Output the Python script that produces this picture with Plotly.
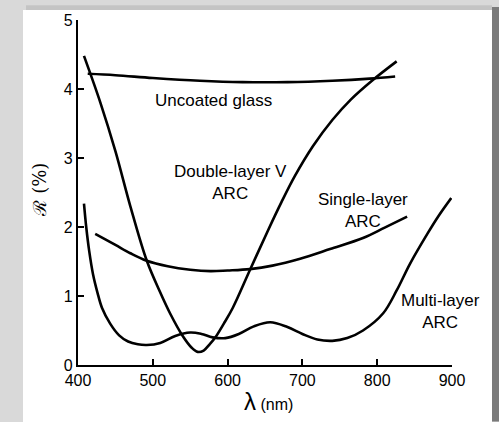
import plotly.graph_objects as go

# ---- data ----
glass_x = [413, 450, 500, 563, 620, 680, 740, 790, 824]
glass_y = [4.22, 4.20, 4.16, 4.12, 4.10, 4.10, 4.12, 4.15, 4.18]

double_x = [408, 430, 450, 470, 492, 510, 523, 540, 552, 560, 568, 576, 583, 595, 607, 630, 654, 672, 690, 714, 740, 765, 793, 826]
double_y = [4.48, 3.80, 3.10, 2.30, 1.51, 1.05, 0.75, 0.42, 0.25, 0.19, 0.21, 0.30, 0.39, 0.60, 0.83, 1.38, 1.95, 2.36, 2.74, 3.17, 3.55, 3.85, 4.12, 4.40]

single_x = [423, 450, 470, 492, 520, 550, 577, 600, 630, 660, 697, 737, 781, 810, 840]
single_y = [1.90, 1.74, 1.62, 1.51, 1.43, 1.38, 1.36, 1.37, 1.39, 1.44, 1.54, 1.68, 1.84, 1.99, 2.15]

multi_x = [408, 411, 415, 420, 426, 432, 443, 455, 467, 480, 492, 510, 530, 550, 565, 580, 597, 615, 635, 657, 680, 700, 720, 740, 760, 781, 808, 826, 844, 867, 882, 899]
multi_y = [2.34, 2.00, 1.65, 1.32, 1.05, 0.83, 0.60, 0.43, 0.34, 0.30, 0.29, 0.32, 0.42, 0.47, 0.45, 0.40, 0.39, 0.45, 0.56, 0.62, 0.55, 0.45, 0.37, 0.35, 0.39, 0.50, 0.75, 1.08, 1.47, 1.90, 2.16, 2.42]

x_ticks = [400, 500, 600, 700, 800, 900]
y_ticks = [0, 1, 2, 3, 4, 5]

labels = [
    ("Uncoated glass", 213, 98),
    ("Double-layer V<br>ARC", 230, 181),
    ("Single-layer<br>ARC", 363, 209),
    ("Multi-layer<br>ARC", 440, 311),
]

# ---- layout geometry (pixels) ----
W, H = 499, 422
L, R, T, B = 78, 452, 17, 365


def px(x):
    return (x - L) / (R - L)


def py(y):
    return (B - y) / (B - T)


FONT = "Liberation Sans, Arial, Helvetica, sans-serif"

fig = go.Figure()
line = dict(color="black", width=2.6, shape="spline", smoothing=1.0)
for xs, ys in [(glass_x, glass_y), (double_x, double_y), (single_x, single_y), (multi_x, multi_y)]:
    fig.add_trace(go.Scatter(x=xs, y=ys, mode="lines", line=line, showlegend=False, hoverinfo="skip"))

shapes = [
    dict(type="rect", xref="paper", yref="paper", x0=px(0), x1=px(W), y0=py(0), y1=py(H),
         fillcolor="#d9d9d9", line_width=0, layer="below"),
    dict(type="rect", xref="paper", yref="paper", x0=px(492), x1=px(499), y0=py(4), y1=py(H),
         fillcolor="#7a7a7a", line_width=0, layer="below"),
    dict(type="rect", xref="paper", yref="paper", x0=px(26), x1=px(492), y0=py(2), y1=py(7),
         fillcolor="#c4c4c4", line_width=0, layer="below"),
    dict(type="rect", xref="paper", yref="paper", x0=px(23), x1=px(492), y0=py(7), y1=py(H + 2),
         fillcolor="white", line_width=0, layer="below"),
]

annotations = []
for text, x, y in labels:
    annotations.append(dict(text=text, xref="paper", yref="paper", x=px(x), y=py(y),
                            showarrow=False, xanchor="center", yanchor="middle",
                            font=dict(family=FONT, size=17, color="black"), align="center"))

annotations.append(dict(text="<span style='font-size:24px'>λ</span> (nm)", xref="paper", yref="paper",
                        x=px(268), y=py(402), showarrow=False, xanchor="center", yanchor="middle",
                        font=dict(family=FONT, size=16, color="black")))
annotations.append(dict(text="ℛ (%)", xref="paper", yref="paper", x=px(40), y=py(188),
                        showarrow=False, textangle=-90, xanchor="center", yanchor="middle",
                        font=dict(family="DejaVu Serif, " + FONT, size=18, color="black")))

fig.update_layout(
    width=W, height=H,
    margin=dict(l=L, r=W - R, t=T, b=H - B, pad=0),
    paper_bgcolor="#d9d9d9",
    plot_bgcolor="rgba(0,0,0,0)",
    shapes=shapes,
    annotations=annotations,
    font=dict(family=FONT, size=16, color="black"),
    xaxis=dict(range=[400, 900], tickvals=x_ticks, ticktext=[str(v) for v in x_ticks],
               showgrid=False, zeroline=False, showline=True, linecolor="black", linewidth=2.2,
               ticks="inside", ticklen=6, tickwidth=2, tickcolor="black",
               tickfont=dict(family=FONT, size=16, color="black")),
    yaxis=dict(range=[0, 5], tickvals=y_ticks, ticktext=[str(v) for v in y_ticks],
               showgrid=False, zeroline=False, showline=True, linecolor="black", linewidth=2.2,
               ticks="inside", ticklen=6, tickwidth=2, tickcolor="black",
               tickfont=dict(family=FONT, size=16, color="black")),
)

fig.write_html("out.html", config={"displayModeBar": False},
               post_script="document.body.style.margin='0';document.body.style.overflow='hidden';")
